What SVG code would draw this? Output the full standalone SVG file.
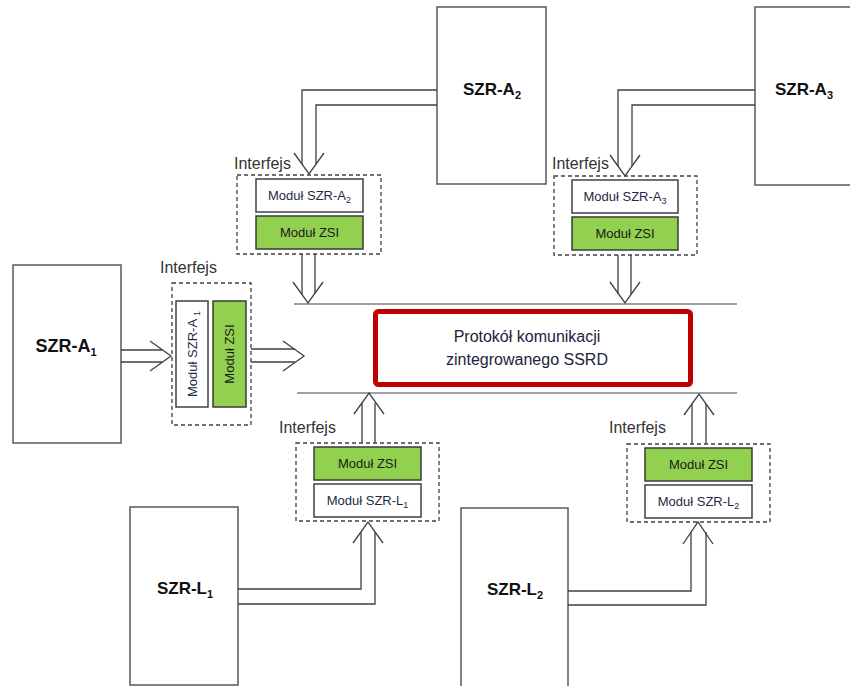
<svg xmlns="http://www.w3.org/2000/svg" width="850" height="686" viewBox="0 0 850 686">
<style>
.sys{fill:#fff;stroke:#595959;stroke-width:1.5}
.sysT{font-family:"Liberation Sans",Arial,sans-serif;font-weight:bold;font-size:17px;fill:#111;text-anchor:middle}
.sub{font-size:11px}
.ifc{fill:none;stroke:#404040;stroke-width:1.3;stroke-dasharray:4,3}
.ifcT{font-family:"Liberation Sans",Arial,sans-serif;font-size:16px;fill:#333}
.modW{fill:#fff;stroke:#404040;stroke-width:1.5}
.modG{fill:#92d050;stroke:#3a3a3a;stroke-width:1.5}
.modT{font-family:"Liberation Sans",Arial,sans-serif;font-size:13px;fill:#1f2a44;text-anchor:middle}
.modTG{font-family:"Liberation Sans",Arial,sans-serif;font-size:13px;fill:#1a1a1a;text-anchor:middle}
.subm{font-size:9px}
.con{fill:none;stroke:#404040;stroke-width:1.3}
.bus{fill:none;stroke:#808080;stroke-width:1.6}
.proto{fill:#fff;stroke:#c00000;stroke-width:5}
.protoT{font-family:"Liberation Sans",Arial,sans-serif;font-size:16px;fill:#22223a;text-anchor:middle}
</style>

<g id="szr-a2">
<rect class="sys" x="437" y="7" width="109" height="177"/>
<text class="sysT" x="492" y="95">SZR-A<tspan class="sub" dy="4">2</tspan></text>
</g>
<g id="szr-a3">
<rect class="sys" x="755" y="7" width="110" height="178"/>
<text class="sysT" x="804" y="95">SZR-A<tspan class="sub" dy="4">3</tspan></text>
</g>
<g id="szr-a1">
<rect class="sys" x="13" y="265" width="108" height="178"/>
<text class="sysT" x="66" y="352" style="font-size:18px">SZR-A<tspan class="sub" dy="4">1</tspan></text>
</g>
<g id="szr-l1">
<rect class="sys" x="130" y="507" width="108" height="178"/>
<text class="sysT" x="185" y="594">SZR-L<tspan class="sub" dy="4">1</tspan></text>
</g>
<g id="szr-l2">
<rect class="sys" x="461" y="508" width="107" height="180"/>
<text class="sysT" x="515" y="595">SZR-L<tspan class="sub" dy="4">2</tspan></text>
</g>

<g id="interfejs-a2">
<text class="ifcT" x="234" y="169">Interfejs</text>
<rect class="ifc" x="237" y="175" width="144" height="79"/>
<rect class="modW" x="256" y="179" width="107" height="33"/>
<text class="modT" x="309.5" y="200">Moduł SZR-A<tspan class="subm" dy="3">2</tspan></text>
<rect class="modG" x="256" y="216" width="107" height="33"/>
<text class="modTG" x="309.5" y="237">Moduł ZSI</text>
</g>
<g id="interfejs-a3">
<text class="ifcT" x="552" y="169">Interfejs</text>
<rect class="ifc" x="554" y="176" width="143" height="79"/>
<rect class="modW" x="572" y="180" width="106" height="33"/>
<text class="modT" x="625" y="201">Moduł SZR-A<tspan class="subm" dy="3">3</tspan></text>
<rect class="modG" x="572" y="217" width="106" height="33"/>
<text class="modTG" x="625" y="238">Moduł ZSI</text>
</g>
<g id="interfejs-a1">
<text class="ifcT" x="160" y="273">Interfejs</text>
<rect class="ifc" x="172" y="283" width="79" height="142"/>
<rect class="modW" x="176" y="301" width="32" height="106"/>
<text class="modT" transform="translate(196.5,354) rotate(-90)">Moduł SZR-A <tspan class="subm" dy="3">1</tspan></text>
<rect class="modG" x="213" y="301" width="33" height="106"/>
<text class="modTG" transform="translate(234,354) rotate(-90)">Moduł ZSI</text>
</g>
<g id="interfejs-l1">
<text class="ifcT" x="279" y="433">Interfejs</text>
<rect class="ifc" x="296" y="443" width="143" height="78"/>
<rect class="modG" x="314" y="447" width="107" height="33"/>
<text class="modTG" x="367.5" y="468">Moduł ZSI</text>
<rect class="modW" x="314" y="484" width="107" height="33"/>
<text class="modT" x="367.5" y="505">Moduł SZR-L<tspan class="subm" dy="3">1</tspan></text>
</g>
<g id="interfejs-l2">
<text class="ifcT" x="609" y="433">Interfejs</text>
<rect class="ifc" x="627" y="444" width="143" height="78"/>
<rect class="modG" x="645" y="448" width="107" height="33"/>
<text class="modTG" x="698.5" y="469">Moduł ZSI</text>
<rect class="modW" x="645" y="485" width="107" height="33"/>
<text class="modT" x="698.5" y="506">Moduł SZR-L<tspan class="subm" dy="3">2</tspan></text>
</g>

<g id="protokol">
<rect class="proto" x="375.5" y="311.5" width="315" height="73" rx="3"/>
<text class="protoT" x="527" y="342">Protokół komunikacji</text>
<text class="protoT" x="527" y="365">zintegrowanego SSRD</text>
</g>

<g id="connectors">
<path class="bus" d="M294,304 H737"/>
<path class="bus" d="M297,393 H737"/>
<path class="con" d="M437,90 H302 V164"/>
<path class="con" d="M437,105 H316 V164"/>
<path class="con" d="M294,153 L309,174 L324,153"/>
<path class="con" d="M302,254 V294 M315,254 V294"/>
<path class="con" d="M293,282 L308,303 L323,282"/>
<path class="con" d="M755,90 H618 V166"/>
<path class="con" d="M755,105 H632 V166"/>
<path class="con" d="M610,155 L625,176 L640,155"/>
<path class="con" d="M618,255 V294 M631,255 V294"/>
<path class="con" d="M610,282 L625,303 L640,282"/>
<path class="con" d="M121,350 H162 M121,362 H162"/>
<path class="con" d="M150,341 L171,356 L150,371"/>
<path class="con" d="M251,349 H295 M251,362 H295"/>
<path class="con" d="M283,341 L304,356 L283,371"/>
<path class="con" d="M238,589 H361 V532"/>
<path class="con" d="M238,604 H375 V532"/>
<path class="con" d="M353,543 L368,522 L383,543"/>
<path class="con" d="M362,443 V403 M375,443 V403"/>
<path class="con" d="M354,414 L369,393 L384,414"/>
<path class="con" d="M568,591 H691 V532"/>
<path class="con" d="M568,605 H706 V532"/>
<path class="con" d="M683,544 L698,522 L713,544"/>
<path class="con" d="M692,444 V404 M706,444 V404"/>
<path class="con" d="M684,415 L699,394 L714,415"/>
</g>
</svg>
